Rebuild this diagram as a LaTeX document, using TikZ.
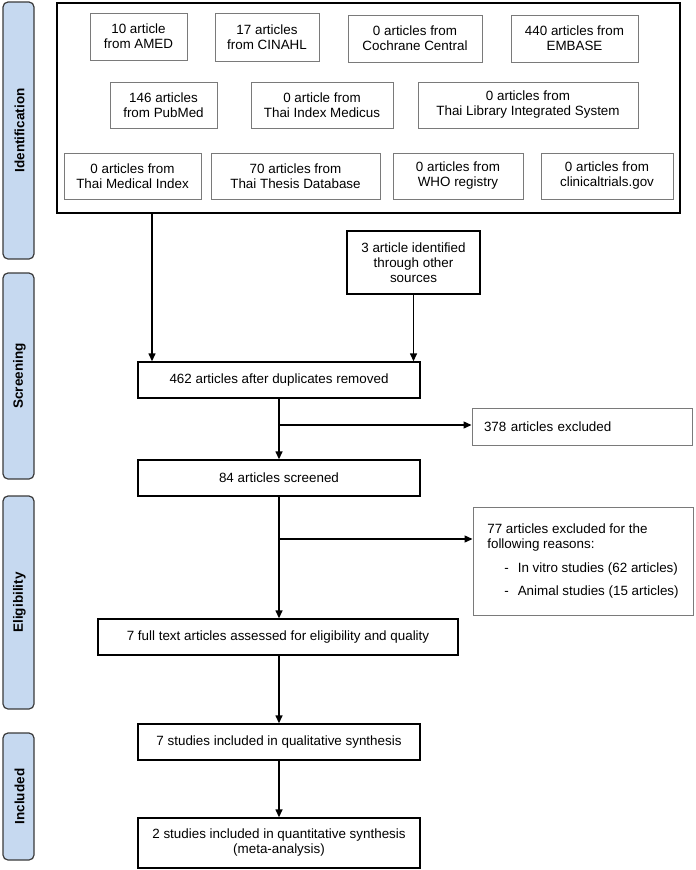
\documentclass[tikz,border=0pt]{standalone}
\usepackage{fontspec}
\setmainfont{Liberation Sans}
\usetikzlibrary{arrows.meta,calc}
\definecolor{sideblue}{HTML}{C6D9F0}
\definecolor{sideedge}{HTML}{3A3A3A}
\definecolor{gedge}{HTML}{7A7A7A}
\tikzset{
  txt/.style={font=\fontsize{13.4}{15}\selectfont, align=center, inner sep=0pt},
  gbox/.style={txt, draw=gedge, line width=1pt},
  kbox/.style={txt, draw=black, line width=1.4pt},
  sidebox/.style={draw=sideedge, fill=sideblue, line width=1.2pt, rounded corners=5pt, minimum width=31, inner sep=0pt},
  sidetxt/.style={font=\fontsize{13.5}{15}\selectfont\bfseries, rotate=90},
  arr/.style={line width=1.4pt, -{Triangle[length=8pt,width=7pt]}},
  ln/.style={line width=1.4pt}
}
\begin{document}
\begin{tikzpicture}[x=1pt,y=-1pt]
\useasboundingbox (0,0) rectangle (696,870);
% side labels
\node[sidebox, minimum height=257] (sid) at (18.5,130.5) {};
\node[sidetxt] (sidt) at ([xshift=1pt]sid.center) {Identification};
\node[sidebox, minimum height=206] (sscr) at (18.5,376) {};
\node[sidetxt] (sscrt) at ([xshift=1pt]sscr.center) {Screening};
\node[sidebox, minimum height=213] (sel) at (18.5,602.5) {};
\node[sidetxt] (selt) at ([xshift=1pt]sel.center) {Eligibility};
\node[sidebox, minimum height=127] (sinc) at (18.5,796.5) {};
\node[sidetxt] (sinct) at ([xshift=1pt]sinc.center) {Included};
% identification outer box
\node[kbox, minimum width=623, minimum height=210] (ident) at (368.5,108) {};
\node[gbox, minimum width=97, minimum height=47] (amed) at (138.5,36.5) {10 article\\from AMED};
\node[gbox, minimum width=104, minimum height=48] (cin) at (267,37) {17 articles\\from CINAHL};
\node[gbox, minimum width=134, minimum height=47] (coch) at (415,38.5) {0 articles from\\Cochrane Central};
\node[gbox, minimum width=127, minimum height=47] (emb) at (574.5,38.5) {440 articles from\\EMBASE};
\node[gbox, minimum width=107, minimum height=46] (pub) at (163.5,105) {146 articles\\from PubMed};
\node[gbox, minimum width=142, minimum height=46] (tim) at (322,105) {0 article from\\Thai Index Medicus};
\node[gbox, minimum width=220, minimum height=46] (tlis) at (528,105) {0 articles from\\Thai Library Integrated System};
\node[gbox, minimum width=137, minimum height=46] (tmi) at (132.5,176) {0 articles from\\Thai Medical Index};
\node[gbox, minimum width=169, minimum height=46] (ttd) at (295.5,176) {70 articles from\\Thai Thesis Database};
\node[gbox, minimum width=130, minimum height=46] (who) at (458,176) {0 articles from\\WHO registry};
\node[gbox, minimum width=132, minimum height=46] (ct) at (607,176) {0 articles from\\clinicaltrials.gov};
% other sources
\node[kbox, minimum width=133, minimum height=63] (other) at (413.5,262.5) {3 article identified\\through other\\sources};
% main flow
\node[kbox, minimum width=282, minimum height=36] (dup) at (279,380) {462 articles after duplicates removed};
\node[gbox, minimum width=220, minimum height=37, align=left, text width=196] (ex1) at (582,426.5) {378 articles excluded};
\node[kbox, minimum width=282, minimum height=36] (scr) at (279,478) {84 articles screened};
\node[gbox, minimum width=220, minimum height=108, align=left] (ex2) at (583,561) {77 articles excluded for the\\following reasons:\\[9pt]\hspace*{17pt}-\hspace{9pt}In vitro studies (62 articles)\\[8pt]\hspace*{17pt}-\hspace{9pt}Animal studies (15 articles)};
\node[kbox, minimum width=360, minimum height=36] (full) at (278,637) {7 full text articles assessed for eligibility and quality};
\node[kbox, minimum width=282, minimum height=36] (qual) at (279,742) {7 studies included in qualitative synthesis};
\node[kbox, minimum width=282, minimum height=50] (quant) at (279,843) {2 studies included in quantitative synthesis\\(meta-analysis)};
% connectors
\coordinate (a1) at (152,213);
\draw[arr] (a1) -- (a1 |- dup.north);
\draw[arr] (other.south) -- (other.south |- dup.north);
\draw[arr] (dup.south) -- (scr.north);
\coordinate (b1) at (279,425);
\draw[arr] (b1) -- (b1 -| ex1.west);
\draw[arr] (scr.south) -- (scr.south |- full.north);
\coordinate (b2) at (279,539);
\draw[arr] (b2) -- (b2 -| ex2.west);
\draw[arr] (scr.south |- full.south) -- (scr.south |- qual.north);
\draw[arr] (qual.south) -- (quant.north);
\end{tikzpicture}
\end{document}
